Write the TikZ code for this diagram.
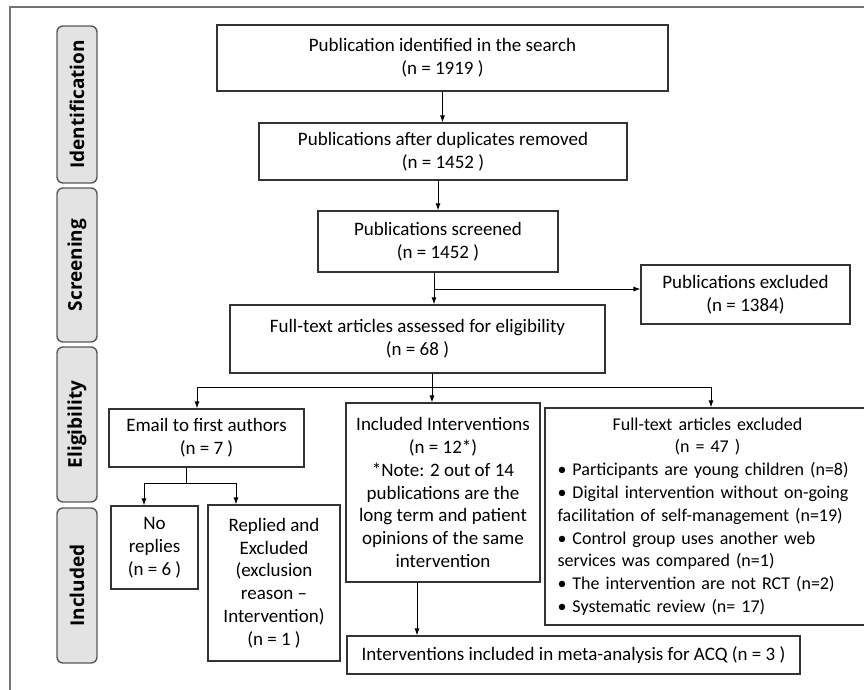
\documentclass[tikz,border=0pt]{standalone}
\usepackage{fontspec}
\setmainfont{Carlito}
\newfontfamily\stagefont{Open Sans}
\usetikzlibrary{arrows.meta}

\begin{document}
\begin{tikzpicture}[x=1pt, y=-1pt,
    box/.style={draw=black!80, line width=1.2pt, align=center, inner sep=2pt,
        font=\fontsize{19}{22.8}\selectfont},
    stage/.style={draw=black!65, fill=black!11, line width=1.4pt, rounded corners=6pt,
        rotate=90, minimum height=40pt, font=\stagefont\bfseries\fontsize{19}{20}\selectfont},
    arr/.style={-{Latex[length=7pt,width=5pt]}, line width=0.9pt}]
    \useasboundingbox (0,0) rectangle (864,689);
    \draw[black!55, line width=2.5pt] (10,700) -- (10,7) -- (880,7);

    % stages
    \node[stage, minimum width=157pt] (s1) at (77,104.5) {Identification};
    \node[stage, minimum width=154pt] (s2) at (77,265) {Screening};
    \node[stage, minimum width=155pt] (s3) at (77,424.5) {Eligibility};
    \node[stage, minimum width=155pt] (s4) at (77,585.5) {Included};

    % boxes
    \node[box, minimum width=451pt, minimum height=66pt] (found) at (442.5,58) {Publication identified in the search\\(n = 1919 )};
    \node[box, minimum width=368pt, minimum height=57pt] (nodup) at (443,151.5) {Publications after duplicates removed\\(n = 1452 )};
    \node[box, minimum width=240pt, minimum height=61pt] (screened) at (438,241.5) {Publications screened\\(n = 1452 )};
    \node[box, minimum width=209pt, minimum height=59pt] (pubexcl) at (745.5,294.5) {Publications excluded\\(n = 1384)};
    \node[box, minimum width=375pt, minimum height=68pt] (fulltext) at (417.5,339) {Full-text articles assessed for eligibility\\(n = 68 )};
    \node[box, minimum width=195pt, minimum height=58pt] (email) at (206.5,438) {Email to first authors\\(n = 7 )};
    \node[box, minimum width=194pt, minimum height=179pt] (incl) at (443,492.5) {Included Interventions\\(n = 12*)\\*Note: 2 out of 14\\publications are the\\long term and patient\\opinions of the same\\intervention};
    \node[box, minimum width=325pt, minimum height=217pt, text width=300pt, align=left,
        font=\fontsize{18}{22.8}\selectfont] (ftexcl) at (707.5,516.5)
        {\makebox[300pt]{Full-text articles excluded}\\
         \makebox[300pt]{(n = 47 )}\\
         • Participants are young children (n=8)\\
         • Digital intervention without on-going\\
         facilitation of self-management (n=19)\\
         • Control group uses another web\\
         services was compared (n=1)\\
         • The intervention are not RCT (n=2)\\
         • Systematic review (n= 17)};
    \node[box, minimum width=87pt, minimum height=83pt] (noreply) at (154.5,547.5) {No\\replies\\(n = 6 )};
    \node[box, minimum width=132pt, minimum height=156pt] (replied) at (274,583) {Replied and\\Excluded\\(exclusion\\reason –\\Intervention)\\(n = 1 )};
    \node[box, minimum width=453pt, minimum height=38pt] (meta) at (573.5,655) {Interventions included in meta-analysis for ACQ (n = 3 )};

    % connectors
    \coordinate (split1) at (434,289);
    \coordinate (split2) at (432,387);
    \coordinate (split3) at (186,483);
    \coordinate (down) at (417,600);
    \draw[arr] (found.south) -- (found.south |- nodup.north);
    \draw[arr] (nodup.south -| screened.north) -- (screened.north);
    \draw[line width=0.9pt] (screened.south -| split1) -- (split1);
    \draw[arr] (split1) -- (fulltext.north -| split1);
    \draw[arr] (split1) -- (pubexcl.west |- split1);
    \draw[line width=0.9pt] (fulltext.south -| split2) -- (split2);
    \draw[arr] (split2) -- (incl.north -| split2);
    \draw[arr] (split2) -| ([xshift=-9.5pt]email.north);
    \draw[arr] (split2) -| ([xshift=3.5pt]ftexcl.north);
    \draw[line width=0.9pt] (email.south -| split3) -- (split3);
    \draw[arr] (split3) -| ([xshift=-10.5pt]noreply.north);
    \draw[arr] (split3) -| ([xshift=-38pt]replied.north);
    \draw[arr] (incl.south -| down) -- (meta.north -| down);
\end{tikzpicture}
\end{document}
